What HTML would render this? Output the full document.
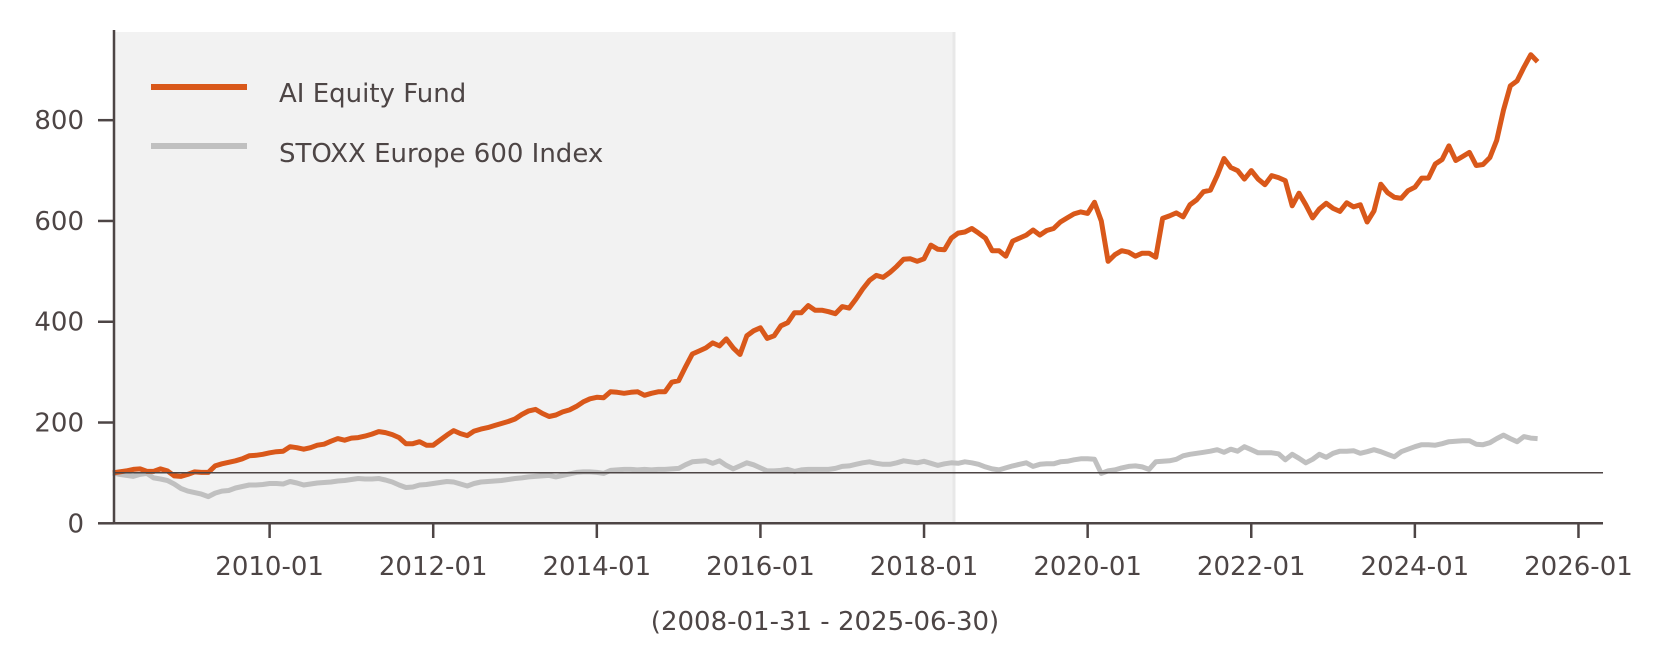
<!DOCTYPE html>
<html><head><meta charset="utf-8">
<style>
html,body{margin:0;padding:0;background:#fff;}
svg{display:block;font-family:"DejaVu Sans","Liberation Sans",sans-serif;}
</style></head>
<body>
<svg id="chart" width="1659" height="667" viewBox="0 0 1659 667" xmlns="http://www.w3.org/2000/svg">
  <rect x="114" y="32" width="840" height="491" fill="#f2f2f2"/>
  <line x1="954" y1="32" x2="954" y2="523" stroke="#e8e8e8" stroke-width="3"/>
  <g id="series"></g>
  <line x1="114" y1="472.7" x2="1603" y2="472.7" stroke="#4d4545" stroke-width="1.5"/>
  <line x1="114" y1="30" x2="114" y2="524.5" stroke="#4d4545" stroke-width="2.5"/>
  <line x1="112.8" y1="523.3" x2="1603" y2="523.3" stroke="#4d4545" stroke-width="2.5"/>
  <g id="yticks"></g>
  <g id="xticks"></g>
  <text x="825" y="630" text-anchor="middle" font-size="26" fill="#4d4545">(2008-01-31 - 2025-06-30)</text>
  <g>
    <g>
      <line x1="151" y1="87" x2="247" y2="87" stroke="#d9581a" stroke-width="6"/>
      <text x="279" y="102" font-size="26" fill="#4d4545">AI Equity Fund</text>
    </g>
    <g>
      <line x1="151" y1="146" x2="247" y2="146" stroke="#c0c0c0" stroke-width="6"/>
      <text x="279" y="162" font-size="26" fill="#4d4545">STOXX Europe 600 Index</text>
    </g>
  </g>
</svg>
<script>
const fundValues = [100,102,104,107,108,103,103,108,104,94,93,97,
102,101,101,114,118,121,124,128,134,135,137,140,
142,143,152,150,147,150,155,157,163,168,165,169,
170,173,177,182,180,176,170,158,158,162,155,155,
165,175,184,178,174,183,187,190,194,198,202,207,
216,223,226,218,212,215,221,225,232,241,247,250,
249,261,260,258,260,261,254,258,261,261,280,283,
310,336,342,348,358,352,366,348,335,372,382,388,
367,372,392,398,418,418,432,423,423,420,416,430,
427,445,465,482,492,488,498,510,524,525,520,525,
552,544,543,566,576,578,585,576,566,541,541,530,
560,566,572,582,572,581,585,598,606,614,618,615,
637,600,520,533,541,538,530,536,536,528,605,610,
616,608,632,642,658,661,690,724,706,700,683,700,
683,672,690,686,680,630,655,632,606,624,635,625,
619,636,628,632,598,620,673,656,647,645,660,667,
685,685,713,722,749,720,728,736,710,712,726,760,
820,868,878,905,930,916];
const indexValues = [100,97,95,93,97,99,90,88,85,78,69,64,
61,58,53,60,64,65,70,73,76,76,77,79,
79,78,83,80,76,78,80,81,82,84,85,87,
89,88,88,89,86,82,76,71,72,76,77,79,
81,83,82,78,74,79,82,83,84,85,87,89,
90,92,93,94,95,92,95,98,101,102,102,101,
99,105,106,107,107,106,107,106,107,107,108,109,
116,122,123,124,119,124,115,108,114,120,116,110,
104,104,105,107,103,106,107,107,107,107,109,113,
114,117,120,122,119,117,117,120,124,122,120,123,
119,115,118,120,119,122,120,117,112,108,106,110,
114,117,120,113,117,118,118,122,123,126,128,128,
127,99,104,106,110,113,114,112,107,122,123,124,
127,134,137,139,141,143,146,141,147,143,152,146,
140,140,140,138,126,137,129,120,127,137,131,139,
143,143,144,139,142,146,142,137,132,142,147,152,
156,156,155,158,162,163,164,164,157,156,160,168,
175,168,162,172,169,168];
const yTickValues = [0,200,400,600,800];
const xTickLabels = ["2010-01","2012-01","2014-01","2016-01","2018-01","2020-01","2022-01","2024-01","2026-01"];
const startYear = 2008;

const NS = "http://www.w3.org/2000/svg";
function xScale(m){ return 106 + m*6.817; }
function yScale(v){ return 523.3 - v*0.5039; }
function monthOfLabel(s){ const p=s.split("-"); return (parseInt(p[0])-startYear)*12 + (parseInt(p[1])-1); }

function drawLine(vals, color, name){
  const pts = vals.map((v,i)=> xScale(i+1).toFixed(1)+","+yScale(v).toFixed(1)).join(" ");
  const pl = document.createElementNS(NS,"polyline");
  pl.setAttribute("points", pts);
  pl.setAttribute("fill","none");
  pl.setAttribute("stroke", color);
  pl.setAttribute("stroke-width","5");
  pl.setAttribute("stroke-linejoin","round");
  
  
  document.getElementById("series").appendChild(pl);
}
drawLine(indexValues, "#c0c0c0", "stoxx-europe-600-line");
drawLine(fundValues, "#d9581a", "ai-equity-fund-line");

const yt = document.getElementById("yticks");
yTickValues.forEach(v=>{
  const y = yScale(v);
  const l = document.createElementNS(NS,"line");
  l.setAttribute("x1","98"); l.setAttribute("x2","114");
  l.setAttribute("y1",y); l.setAttribute("y2",y);
  l.setAttribute("stroke","#4d4545"); l.setAttribute("stroke-width","2.5");
  
  
  yt.appendChild(l);
  const t = document.createElementNS(NS,"text");
  t.setAttribute("x","84"); t.setAttribute("y", y+9);
  t.setAttribute("text-anchor","end"); t.setAttribute("font-size","26");
  t.setAttribute("fill","#4d4545");
  t.textContent = v;
  
  
  yt.appendChild(t);
});

const xt = document.getElementById("xticks");
xTickLabels.forEach(s=>{
  const x = xScale(monthOfLabel(s));
  const l = document.createElementNS(NS,"line");
  l.setAttribute("x1",x); l.setAttribute("x2",x);
  l.setAttribute("y1","523"); l.setAttribute("y2","538");
  l.setAttribute("stroke","#4d4545"); l.setAttribute("stroke-width","2.5");
  
  
  xt.appendChild(l);
  const t = document.createElementNS(NS,"text");
  t.setAttribute("x",x); t.setAttribute("y","575");
  t.setAttribute("text-anchor","middle"); t.setAttribute("font-size","26");
  t.setAttribute("fill","#4d4545");
  t.textContent = s;
  
  
  xt.appendChild(t);
});
</script>
</body></html>
